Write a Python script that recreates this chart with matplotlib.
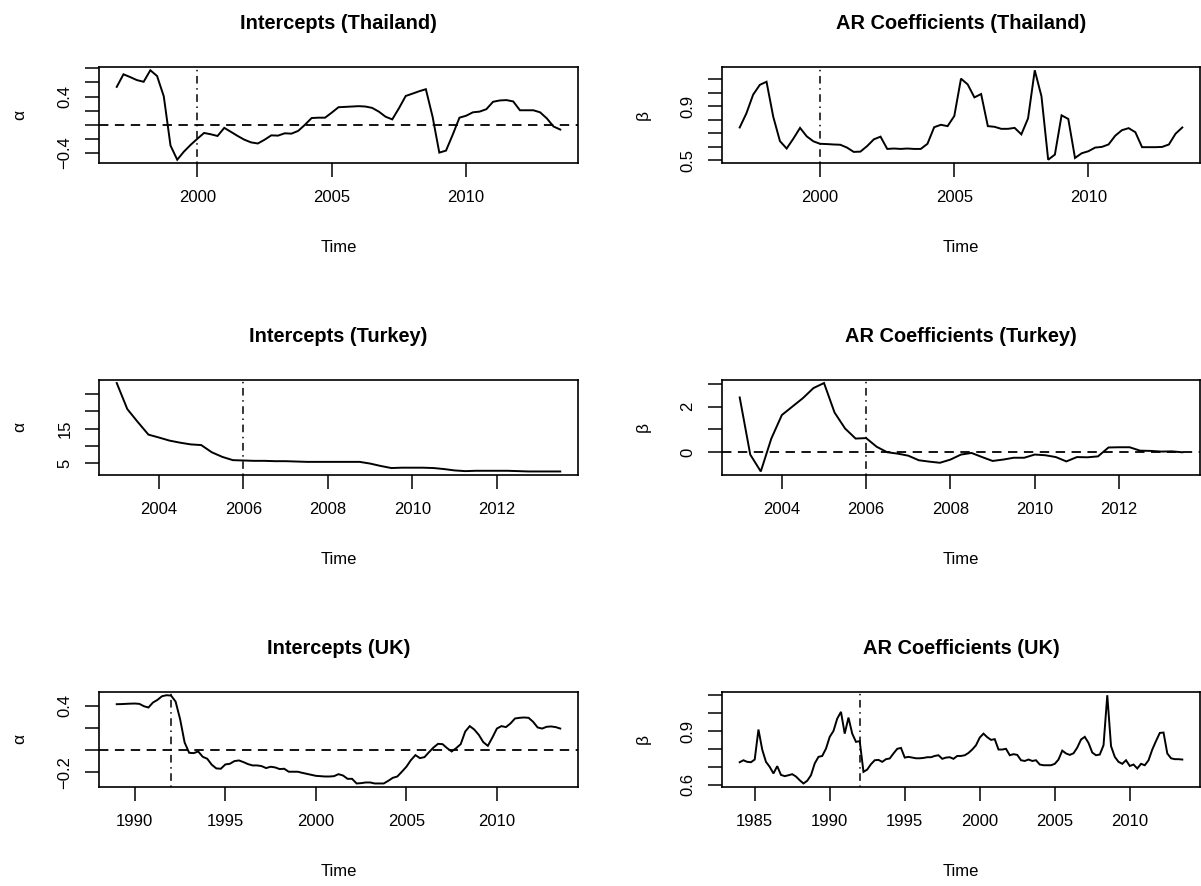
import numpy as np
import matplotlib
matplotlib.use("Agg")
import matplotlib.pyplot as plt

plt.rcParams['font.family'] = ['Liberation Sans', 'DejaVu Sans']

# ---- quarterly series -------------------------------------------------------
thai_start = 1997.0
thai_alpha = [0.537, 0.715, 0.676, 0.633, 0.609, 0.772, 0.691, 0.403, -0.293, -0.494,
              -0.379, -0.283, -0.197, -0.115, -0.134, -0.158, -0.043, -0.100, -0.158, -0.211,
              -0.249, -0.264, -0.211, -0.149, -0.153, -0.120, -0.125, -0.086, 0.000, 0.096,
              0.101, 0.101, 0.173, 0.249, 0.254, 0.259, 0.264, 0.259, 0.240, 0.187,
              0.115, 0.077, 0.235, 0.408, 0.441, 0.475, 0.504, 0.115, -0.393, -0.365,
              -0.139, 0.101, 0.129, 0.177, 0.187, 0.221, 0.326, 0.345, 0.350, 0.331,
              0.206, 0.206, 0.206, 0.177, 0.091, -0.024, -0.067]
thai_beta = [0.744, 0.849, 0.987, 1.060, 1.083, 0.824, 0.643, 0.588, 0.661, 0.741,
             0.678, 0.641, 0.623, 0.621, 0.618, 0.616, 0.595, 0.563, 0.565, 0.606,
             0.656, 0.676, 0.585, 0.588, 0.585, 0.588, 0.585, 0.585, 0.623, 0.746,
             0.764, 0.754, 0.829, 1.106, 1.063, 0.967, 0.992, 0.754, 0.749, 0.734,
             0.734, 0.741, 0.693, 0.812, 1.168, 0.975, 0.505, 0.543, 0.834, 0.807,
             0.518, 0.553, 0.568, 0.595, 0.600, 0.618, 0.683, 0.724, 0.739, 0.709,
             0.598, 0.598, 0.598, 0.600, 0.618, 0.698, 0.744]

turkey_start = 2003.0
turkey_alpha = [28.3, 20.7, 16.9, 13.25, 12.4, 11.5, 10.9, 10.4, 10.2, 8.1,
                6.75, 5.8, 5.7, 5.6, 5.6, 5.5, 5.5, 5.4, 5.3, 5.3,
                5.3, 5.3, 5.3, 5.3, 4.8, 4.1, 3.5, 3.6, 3.6, 3.6,
                3.5, 3.2, 2.8, 2.6, 2.7, 2.7, 2.7, 2.7, 2.6, 2.5,
                2.5, 2.5, 2.5]
turkey_beta = [2.40, -0.10, -0.84, 0.60, 1.63, 2.00, 2.37, 2.81, 3.03, 1.74,
               1.04, 0.60, 0.62, 0.24, 0.00, -0.06, -0.15, -0.35, -0.41, -0.46,
               -0.32, -0.10, -0.03, -0.21, -0.38, -0.32, -0.24, -0.24, -0.10, -0.13,
               -0.21, -0.40, -0.21, -0.22, -0.18, 0.21, 0.22, 0.22, 0.07, 0.06,
               0.03, 0.04, 0.00]

uk_alpha_start = 1989.0
uk_alpha = [0.415, 0.416, 0.418, 0.420, 0.421, 0.418, 0.397, 0.385, 0.430, 0.454,
            0.487, 0.496, 0.493, 0.439, 0.280, 0.069, -0.024, -0.027, -0.012, -0.060,
            -0.078, -0.132, -0.165, -0.168, -0.129, -0.123, -0.099, -0.093, -0.108, -0.126,
            -0.138, -0.138, -0.144, -0.162, -0.150, -0.156, -0.171, -0.168, -0.195, -0.195,
            -0.195, -0.205, -0.214, -0.223, -0.232, -0.235, -0.238, -0.238, -0.235, -0.217,
            -0.229, -0.259, -0.259, -0.301, -0.298, -0.292, -0.292, -0.301, -0.301, -0.301,
            -0.277, -0.250, -0.238, -0.195, -0.150, -0.090, -0.045, -0.072, -0.063, -0.018,
            0.024, 0.057, 0.054, 0.018, -0.012, 0.018, 0.054, 0.168, 0.217, 0.186,
            0.138, 0.072, 0.039, 0.114, 0.195, 0.217, 0.208, 0.241, 0.286, 0.292,
            0.295, 0.292, 0.256, 0.205, 0.195, 0.211, 0.214, 0.208, 0.195]

uk_beta_start = 1984.0
uk_beta = [0.725, 0.736, 0.727, 0.725, 0.740, 0.908, 0.796, 0.727, 0.699, 0.662,
           0.703, 0.654, 0.647, 0.652, 0.658, 0.645, 0.624, 0.606, 0.621, 0.652,
           0.718, 0.755, 0.760, 0.801, 0.867, 0.900, 0.969, 1.007, 0.885, 0.975,
           0.885, 0.839, 0.843, 0.671, 0.684, 0.714, 0.736, 0.738, 0.727, 0.742,
           0.746, 0.774, 0.800, 0.805, 0.751, 0.755, 0.751, 0.747, 0.747, 0.749,
           0.753, 0.753, 0.760, 0.764, 0.744, 0.751, 0.753, 0.744, 0.760, 0.760,
           0.764, 0.777, 0.796, 0.820, 0.863, 0.885, 0.865, 0.850, 0.854, 0.796,
           0.796, 0.800, 0.764, 0.770, 0.766, 0.736, 0.732, 0.740, 0.732, 0.736,
           0.712, 0.708, 0.708, 0.708, 0.716, 0.740, 0.790, 0.774, 0.766, 0.775,
           0.807, 0.852, 0.867, 0.833, 0.779, 0.764, 0.768, 0.820, 1.100, 0.815,
           0.755, 0.727, 0.716, 0.736, 0.704, 0.712, 0.690, 0.716, 0.708, 0.736,
           0.796, 0.844, 0.889, 0.891, 0.774, 0.747, 0.742, 0.742, 0.740]

# break dates (vertical reference lines)
thai_break, turkey_break, uk_break = 2000, 2006, 1992

# axis ticks and the subset of tick values that carry a label
thai_xticks = [2000, 2005, 2010]
turkey_xticks = [2004, 2006, 2008, 2010, 2012]
uk_alpha_xticks = [1990, 1995, 2000, 2005, 2010]
uk_beta_xticks = [1985, 1990, 1995, 2000, 2005, 2010]

thai_alpha_yticks = [-0.4, -0.2, 0.0, 0.2, 0.4, 0.6, 0.8]
thai_alpha_ylab = ["\u22120.4", "0.4"]
thai_beta_yticks = [0.5, 0.6, 0.7, 0.8, 0.9, 1.0, 1.1]
thai_beta_ylab = ["0.5", "0.9"]
turkey_alpha_yticks = [5, 10, 15, 20, 25]
turkey_alpha_ylab = ["5", "15"]
turkey_beta_yticks = [0, 1, 2, 3]
turkey_beta_ylab = ["0", "2"]
uk_alpha_yticks = [-0.2, 0.0, 0.2, 0.4]
uk_alpha_ylab = ["\u22120.2", "0.4"]
uk_beta_yticks = [0.6, 0.7, 0.8, 0.9, 1.0, 1.1]
uk_beta_ylab = ["0.6", "0.9"]

# ---- figure -----------------------------------------------------------------
W, H = 1201, 886
fig = plt.figure(figsize=(W / 100, H / 100), dpi=100)

COLS = [(99, 578), (722, 1200)]
ROWS = [(66.7, 163.3), (379.5, 475.0), (691.7, 787.0)]


def rect(col, row):
    x0, x1 = COLS[col]
    y0, y1 = ROWS[row]
    return [x0 / W, 1 - y1 / H, (x1 - x0) / W, (y1 - y0) / H]


def quarters(start, values):
    return start + 0.25 * np.arange(len(values))


def label_strings(ticks, shown):
    out = []
    for t in ticks:
        s = ("%g" % t).replace("-", "\u2212")
        out.append(s if s in shown else "")
    return out


def panel(col, row, start, values, title, ylab, vline, hline,
          xticks, yticks, yshown):
    ax = fig.add_axes(rect(col, row))
    t = quarters(start, values)
    ax.plot(t, values, color="black", lw=1.4, solid_joinstyle="miter")
    ax.set_xlim(t[0] - 0.04 * (t[-1] - t[0]), t[-1] + 0.04 * (t[-1] - t[0]))
    vmin, vmax = min(values), max(values)
    ax.set_ylim(vmin - 0.04 * (vmax - vmin), vmax + 0.04 * (vmax - vmin))
    if hline:
        ax.axhline(0, color="black", lw=1.3, dashes=(5.2, 3.6))
    ax.axvline(vline, color="black", lw=1.1, dashes=(1, 3, 5, 3))

    ax.set_xticks(xticks)
    ax.set_xticklabels([str(x) for x in xticks])
    ax.set_yticks(yticks)
    ax.set_yticklabels(label_strings(yticks, yshown), rotation=90, va="center")
    ax.tick_params(axis="both", direction="out", length=10, width=1.1,
                   labelsize=12, colors="black")
    ax.tick_params(axis="x", pad=9.5)
    ax.tick_params(axis="y", pad=9)
    for sp in ax.spines.values():
        sp.set_linewidth(1.2)
        sp.set_color("black")

    ax.annotate(title, xy=(0.5, 1), xycoords="axes fraction", xytext=(0, 43),
                textcoords="offset pixels", ha="center", va="center",
                fontsize=14.4, fontweight="bold")
    ax.annotate("Time", xy=(0.5, 0), xycoords="axes fraction", xytext=(0, -84),
                textcoords="offset pixels", ha="center", va="center", fontsize=12)
    ax.annotate(ylab, xy=(0, 0.5), xycoords="axes fraction", xytext=(-79, 0),
                textcoords="offset pixels", ha="center", va="center",
                rotation=90, fontsize=12.5)
    return ax


panel(0, 0, thai_start, thai_alpha, "Intercepts (Thailand)", "\u03b1", thai_break, True,
      thai_xticks, thai_alpha_yticks, thai_alpha_ylab)
panel(1, 0, thai_start, thai_beta, "AR Coefficients (Thailand)", "\u03b2", thai_break, False,
      thai_xticks, thai_beta_yticks, thai_beta_ylab)
panel(0, 1, turkey_start, turkey_alpha, "Intercepts (Turkey)", "\u03b1", turkey_break, False,
      turkey_xticks, turkey_alpha_yticks, turkey_alpha_ylab)
panel(1, 1, turkey_start, turkey_beta, "AR Coefficients (Turkey)", "\u03b2", turkey_break, True,
      turkey_xticks, turkey_beta_yticks, turkey_beta_ylab)
panel(0, 2, uk_alpha_start, uk_alpha, "Intercepts (UK)", "\u03b1", uk_break, True,
      uk_alpha_xticks, uk_alpha_yticks, uk_alpha_ylab)
panel(1, 2, uk_beta_start, uk_beta, "AR Coefficients (UK)", "\u03b2", uk_break, False,
      uk_beta_xticks, uk_beta_yticks, uk_beta_ylab)

fig.savefig("out.png", dpi=100)
